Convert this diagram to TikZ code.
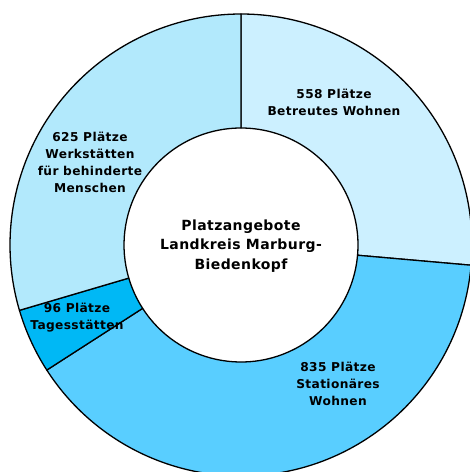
\documentclass[tikz,border=0pt]{standalone}
\usepackage{fontspec}
\setmainfont{DejaVu Sans}[LetterSpace=3]
\usepackage{tikz}

\definecolor{betreut}{RGB}{204,240,255}
\definecolor{stationaer}{RGB}{89,206,255}
\definecolor{tages}{RGB}{0,184,245}
\definecolor{werk}{RGB}{178,233,252}

\tikzset{
  segment/.style={draw=black, line width=1.3pt, line join=round},
  seglabel/.style={align=center, font=\bfseries\fontsize{12.2}{17}\selectfont, inner sep=0pt},
}

\begin{document}
\begin{tikzpicture}[x=1pt, y=1pt]
    \useasboundingbox (0, -472) rectangle (470, 0);
    \clip (0, -472) rectangle (470, 0);
    \coordinate (c) at (241, -245);

    % Betreutes Wohnen
    \draw[segment, fill=betreut, shift={(c)}]
        (90:231) arc (90:-5.02:231) -- (-5.02:117) arc (-5.02:90:117) -- cycle;

    % Stationaeres Wohnen
    \draw[segment, fill=stationaer, shift={(c)}]
        (-5.02:231) arc (-5.02:-147.22:231) -- (-147.22:117) arc (-147.22:-5.02:117) -- cycle;

    % Tagesstaetten
    \draw[segment, fill=tages, shift={(c)}]
        (-147.22:231) arc (-147.22:-163.57:231) -- (-163.57:117) arc (-163.57:-147.22:117) -- cycle;

    % Werkstaetten
    \draw[segment, fill=werk, shift={(c)}]
        (-163.57:231) arc (-163.57:-270:231) -- (-270:117) arc (-270:-163.57:117) -- cycle;

    % Labels
    \node[seglabel] (betreutlbl) at (334, -102) {558 Plätze\\Betreutes Wohnen};
    \node[seglabel] (stationaerlbl) at (338, -384) {835 Plätze\\Stationäres\\Wohnen};
    \node[seglabel] (tageslbl) at (77, -318) {96 Plätze\\Tagesstätten};
    \node[seglabel] (werklbl) at (90, -162) {625 Plätze\\Werkstätten\\für behinderte\\Menschen};

    % Title
    \node[align=center, font=\bfseries\fontsize{14}{19.5}\selectfont, inner sep=0pt] (title) at (241, -246)
        {Platzangebote\\Landkreis Marburg-\\Biedenkopf};
\end{tikzpicture}
\end{document}
